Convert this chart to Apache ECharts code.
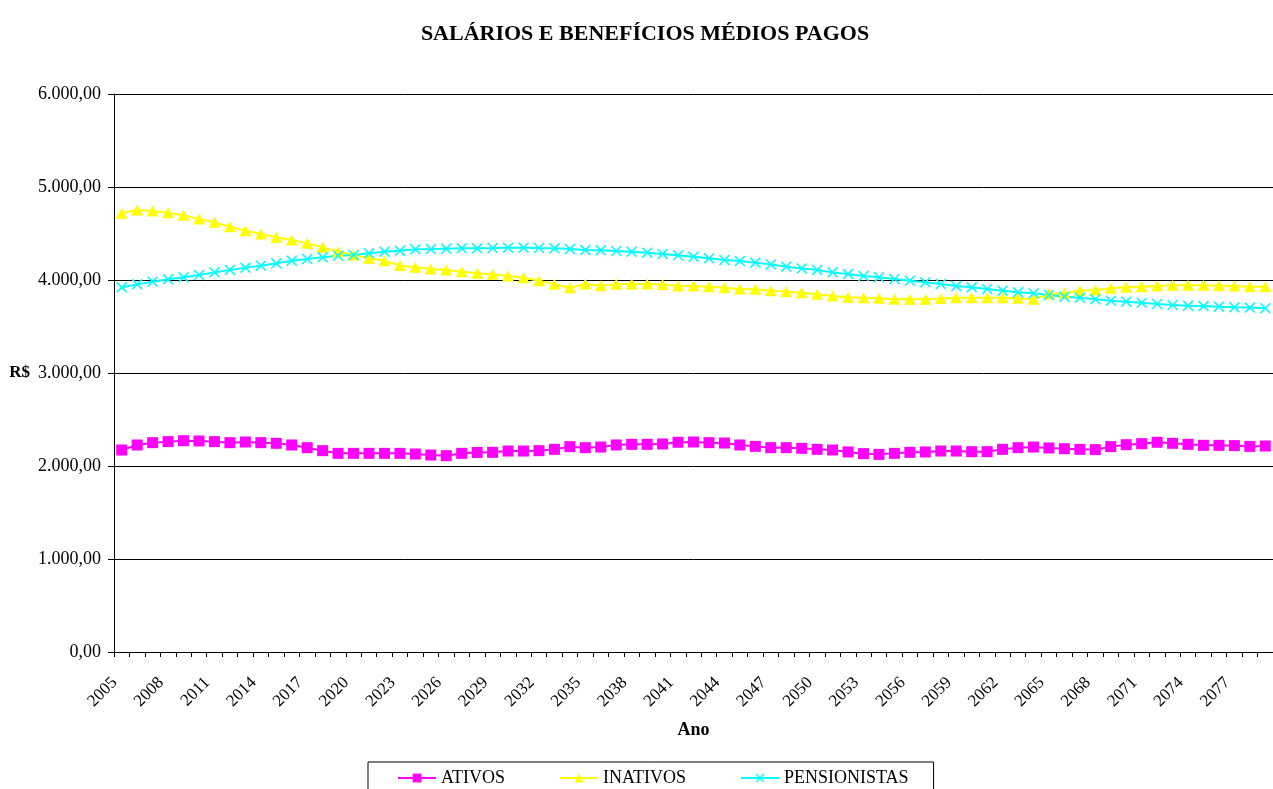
<!DOCTYPE html>
<html>
<head>
<meta charset="utf-8">
<title>Salários e benefícios médios pagos</title>
<script src="https://cdn.jsdelivr.net/npm/echarts@6/dist/echarts.min.js"></script>
<style>
  html, body { margin: 0; padding: 0; background: #fff; }
  #main { width: 1273px; height: 789px; }
</style>
</head>
<body>
<div id="main"></div>
<script>
// anos 2005 .. 2079
const anos = []
for (let a = 2005; a <= 2079; a++) anos.push(String(a))

// valores (R$)
const ativos = [
  2172, 2226, 2251, 2262, 2272, 2269, 2262, 2251, 2258, 2251,
  2244, 2226, 2197, 2165, 2136, 2136, 2136, 2136, 2136, 2129,
  2118, 2111, 2136, 2145, 2147, 2161, 2161, 2165, 2179, 2208,
  2197, 2204, 2226, 2233, 2233, 2237, 2255, 2258, 2251, 2247,
  2226, 2211, 2197, 2197, 2190, 2179, 2172, 2151, 2133, 2125,
  2136, 2147, 2151, 2161, 2161, 2154, 2154, 2179, 2197, 2204,
  2194, 2186, 2179, 2176, 2208, 2229, 2240, 2255, 2244, 2233,
  2222, 2222, 2219, 2211, 2215
]
const inativos = [
  4717, 4753, 4742, 4724, 4695, 4656, 4620, 4573, 4530, 4495,
  4459, 4430, 4394, 4351, 4305, 4269, 4233, 4206, 4156, 4136,
  4118, 4108, 4090, 4072, 4061, 4043, 4025, 3993, 3953, 3917,
  3957, 3939, 3953, 3957, 3957, 3952, 3936, 3935, 3928, 3917,
  3903, 3900, 3885, 3875, 3864, 3846, 3828, 3814, 3810, 3803,
  3792, 3792, 3792, 3801, 3810, 3810, 3810, 3810, 3803, 3792,
  3849, 3857, 3885, 3892, 3910, 3921, 3928, 3935, 3943, 3943,
  3943, 3939, 3935, 3928, 3928
]
const pensionistas = [
  3921, 3953, 3982, 4007, 4029, 4054, 4082, 4108, 4133, 4154,
  4179, 4208, 4226, 4244, 4262, 4269, 4287, 4305, 4315, 4330,
  4333, 4337, 4341, 4341, 4344, 4348, 4348, 4344, 4341, 4333,
  4323, 4319, 4312, 4305, 4294, 4280, 4265, 4251, 4233, 4215,
  4204, 4186, 4168, 4143, 4125, 4108, 4082, 4065, 4043, 4029,
  4011, 3993, 3975, 3957, 3935, 3921, 3903, 3885, 3867, 3857,
  3839, 3821, 3810, 3792, 3778, 3767, 3756, 3742, 3731, 3724,
  3720, 3713, 3706, 3703, 3696
]

const fonte = '"Liberation Serif", "Times New Roman", serif'

// 6000 -> "6.000,00"
function moeda(v) {
  const s = String(Math.round(v)).replace(/\B(?=(\d{3})+(?!\d))/g, '.')
  return s + ',00'
}

// marcador "x" preenchido
const xis = 'path://M0,1L1,0L5,4L9,0L10,1L6,5L10,9L9,10L5,6L1,10L0,9L4,5Z'

const chart = echarts.init(document.getElementById('main'))
chart.setOption({
  animation: false,
  textStyle: { fontFamily: fonte, color: '#000' },
  title: {
    text: 'SALÁRIOS E BENEFÍCIOS MÉDIOS PAGOS',
    left: 640,
    top: 18,
    textAlign: 'center',
    textStyle: { fontFamily: fonte, fontSize: 22, fontWeight: 'bold', color: '#000' }
  },
  grid: { left: 114, top: 94, width: 1166, height: 558 },
  legend: {
    left: 368,
    top: 762,
    padding: [7, 25, 8, 29],
    itemGap: 54,
    itemWidth: 38,
    itemHeight: 11,
    borderColor: '#000',
    borderWidth: 1,
    textStyle: { fontFamily: fonte, fontSize: 18, color: '#000' },
    data: ['ATIVOS', 'INATIVOS', 'PENSIONISTAS']
  },
  xAxis: {
    type: 'category',
    data: anos,
    boundaryGap: true,
    name: 'Ano',
    nameLocation: 'middle',
    nameGap: 69,
    nameTextStyle: { fontFamily: fonte, fontSize: 18, fontWeight: 'bold', color: '#000' },
    axisLine: { lineStyle: { color: '#000', width: 1 } },
    axisTick: { show: true, interval: 0, length: 5, lineStyle: { color: '#000' } },
    axisLabel: {
      interval: 2,
      rotate: 45,
      margin: 21,
      padding: [0, 10, 0, 0],
      fontFamily: fonte,
      fontSize: 17,
      color: '#000'
    }
  },
  yAxis: {
    type: 'value',
    min: 0,
    max: 6000,
    interval: 1000,
    name: 'R$',
    nameLocation: 'middle',
    nameRotate: 0,
    nameGap: 84,
    nameTextStyle: { fontFamily: fonte, fontSize: 17, fontWeight: 'bold', color: '#000' },
    axisLine: { show: true, lineStyle: { color: '#000', width: 1 } },
    axisTick: { show: true, length: 6, lineStyle: { color: '#000' } },
    axisLabel: { formatter: moeda, margin: 13, fontFamily: fonte, fontSize: 18, color: '#000' },
    splitLine: { show: true, lineStyle: { color: '#000', width: 1 } }
  },
  series: [
    {
      name: 'ATIVOS',
      type: 'line',
      data: ativos,
      symbol: 'rect',
      symbolSize: 11,
      showAllSymbol: true,
      color: '#FF00FF',
      lineStyle: { width: 2 }
    },
    {
      name: 'INATIVOS',
      type: 'line',
      data: inativos,
      symbol: 'triangle',
      symbolSize: [12, 11],
      showAllSymbol: true,
      color: '#FFFF00',
      lineStyle: { width: 2 }
    },
    {
      name: 'PENSIONISTAS',
      type: 'line',
      data: pensionistas,
      symbol: xis,
      symbolSize: 11,
      showAllSymbol: true,
      color: '#00FFFF',
      lineStyle: { width: 2 }
    }
  ]
})
</script>
</body>
</html>
